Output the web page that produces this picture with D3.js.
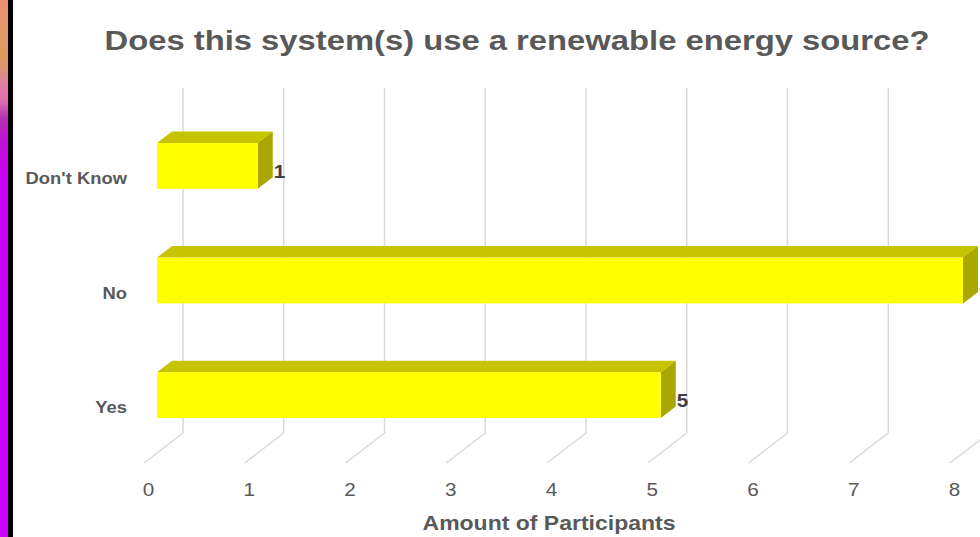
<!DOCTYPE html>
<html>
<head>
<meta charset="utf-8">
<script src="https://cdn.jsdelivr.net/npm/d3@7"></script>
<style>
  body { margin: 0; background: #fff; }
  svg { display: block; font-family: "Liberation Sans", Arial, sans-serif; }
</style>
</head>
<body>
<div id="chart"></div>
<script>
// data
const categories = ["Don't Know", "No", "Yes"];
const values = [1, 8, 5];
const tickValues = [0, 1, 2, 3, 4, 5, 6, 7, 8];
const chartTitle = "Does this system(s) use a renewable energy source?";
const axisTitle = "Amount of Participants";

const W = 980, H = 537;
const stretch = 1.15; // the picture is a bit wider than tall

const svg = d3.select("#chart").append("svg")
    .attr("width", W)
    .attr("height", H);

// left edge strip (gradient + black line)
const defs = svg.append("defs");
const grad = defs.append("linearGradient")
    .attr("id", "edge")
    .attr("x1", 0).attr("y1", 0).attr("x2", 0).attr("y2", 1);
[[0, "#eb8f70"], [0.06, "#e39a66"], [0.11, "#d99b5c"], [0.15, "#e2839a"],
 [0.19, "#dd6cb0"], [0.22, "#b42fb4"], [0.27, "#c20ed8"], [0.33, "#cc00f4"], [1, "#cc00ff"]]
    .forEach(s => grad.append("stop").attr("offset", s[0]).attr("stop-color", s[1]));
svg.append("rect").attr("x", 0).attr("y", 0).attr("width", 8).attr("height", H).attr("fill", "url(#edge)");
svg.append("rect").attr("x", 8).attr("y", 0).attr("width", 5).attr("height", H).attr("fill", "#000");

// scales
const x = d3.scaleLinear().domain([0, 8]).range([0, 806]);
const y = d3.scaleBand().domain(categories).range([143, 418]).paddingInner(0.6).paddingOuter(0);

const backX = 183, wallTop = 88, floorBack = 433;
const floorDepth = { dx: -39, dy: 30 };
const barX0 = 157;
const barDepth = { dx: 15, dy: -11.5 };

// back wall gridlines with the floor edge
svg.append("g")
    .selectAll("path")
    .data(tickValues)
    .join("path")
    .attr("d", d => {
        const bx = backX + x(d);
        return `M${bx},${wallTop}V${floorBack}L${bx + floorDepth.dx},${floorBack + floorDepth.dy}`;
    })
    .attr("fill", "none")
    .attr("stroke", "#d9d9d9")
    .attr("stroke-width", 1.5);

// 3D bars
const data = categories.map((c, i) => ({ category: c, value: values[i] }));
const bars = svg.append("g").selectAll("g").data(data).join("g");

bars.append("path") // top face
    .attr("d", d => {
        const t = y(d.category), x1 = barX0 + x(d.value);
        return `M${barX0},${t}L${x1},${t}L${x1 + barDepth.dx},${t + barDepth.dy}L${barX0 + barDepth.dx},${t + barDepth.dy}Z`;
    })
    .attr("fill", "#c6c400");

bars.append("path") // side face
    .attr("d", d => {
        const t = y(d.category), b = t + y.bandwidth(), x1 = barX0 + x(d.value);
        return `M${x1},${t}L${x1 + barDepth.dx},${t + barDepth.dy}L${x1 + barDepth.dx},${b + barDepth.dy}L${x1},${b}Z`;
    })
    .attr("fill", "#aaa800");

bars.append("rect") // front face
    .attr("x", barX0)
    .attr("y", d => y(d.category))
    .attr("width", d => x(d.value))
    .attr("height", y.bandwidth())
    .attr("fill", "#ffff00");

// value labels
bars.append("text")
    .attr("transform", d => `translate(${barX0 + x(d.value) + 16},${y(d.category) + y.bandwidth() / 2 + 6}) scale(${stretch},1)`)
    .attr("dy", "0.35em")
    .attr("font-size", 18)
    .attr("font-weight", "bold")
    .attr("fill", "#404040")
    .text(d => d.value);

// category axis
const yAxis = svg.append("g")
    .attr("transform", "translate(127,13)")
    .call(d3.axisLeft(y).tickSize(0).tickPadding(0));
yAxis.select(".domain").remove();
yAxis.selectAll("text")
    .attr("font-size", 16)
    .attr("font-weight", "bold")
    .attr("font-family", "Liberation Sans, Arial, sans-serif")
    .attr("fill", "#595959")
    .attr("transform", `scale(${stretch},1)`);

// value axis along the front of the floor
const xFront = d3.scaleLinear().domain(x.domain()).range(x.range().map(v => v + backX + floorDepth.dx + 4));
const xAxis = svg.append("g")
    .attr("transform", "translate(0,483)")
    .call(d3.axisBottom(xFront).tickValues(tickValues).tickSize(0).tickPadding(0).tickFormat(d3.format("d")));
xAxis.select(".domain").remove();
xAxis.selectAll("text")
    .attr("font-size", 18)
    .attr("font-family", "Liberation Sans, Arial, sans-serif")
    .attr("fill", "#595959")
    .attr("transform", `scale(${stretch},1)`);

// titles
svg.append("text")
    .attr("transform", `translate(517,50) scale(${stretch},1)`)
    .attr("text-anchor", "middle")
    .attr("font-size", 28.5)
    .attr("font-weight", "bold")
    .attr("fill", "#595959")
    .text(chartTitle);

svg.append("text")
    .attr("transform", `translate(549,530) scale(${stretch},1)`)
    .attr("text-anchor", "middle")
    .attr("font-size", 20)
    .attr("font-weight", "bold")
    .attr("fill", "#595959")
    .text(axisTitle);
</script>
</body>
</html>
